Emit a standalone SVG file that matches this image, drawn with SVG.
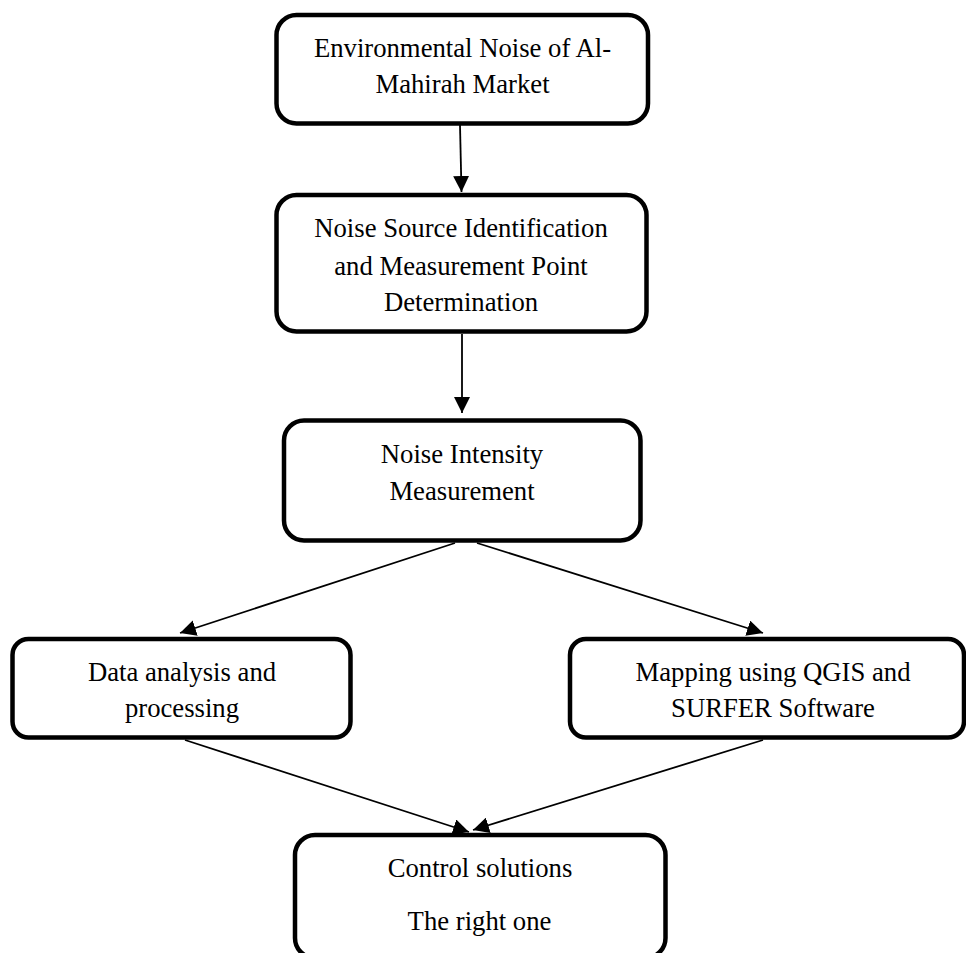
<svg xmlns="http://www.w3.org/2000/svg" width="966" height="953" viewBox="0 0 966 953">
<style>
.box{fill:#fff;stroke:#000;stroke-width:4.5}
.lbl{font-family:"Liberation Serif","Times New Roman",serif;font-size:26.7px;fill:#000;text-anchor:middle}
.conn{stroke:#000;stroke-width:1.8;fill:none;marker-end:url(#ah)}
</style>
<defs>
<marker id="ah" markerUnits="userSpaceOnUse" markerWidth="16" markerHeight="16" refX="15" refY="7.5" orient="auto" viewBox="0 0 15 15">
<path d="M0,0 L15,7.5 L0,15 z" fill="#000"/>
</marker>
</defs>
<rect width="966" height="953" fill="#fff"/>
<g id="connectors">
<line class="conn" x1="460" y1="125" x2="461.5" y2="192"/>
<line class="conn" x1="462" y1="334" x2="462" y2="413"/>
<line class="conn" x1="455" y1="543" x2="180" y2="633"/>
<line class="conn" x1="477" y1="543" x2="763" y2="633"/>
<line class="conn" x1="185" y1="740" x2="469" y2="832"/>
<line class="conn" x1="763" y1="740" x2="473" y2="830"/>
</g>
<g id="n1">
<rect class="box" x="276.5" y="15" width="371.5" height="108.5" rx="20"/>
<text class="lbl" x="462.5" y="57">Environmental Noise of Al-</text>
<text class="lbl" x="462.5" y="93">Mahirah Market</text>
</g>
<g id="n2">
<rect class="box" x="276.5" y="195" width="370" height="136.5" rx="20"/>
<text class="lbl" x="461" y="237">Noise Source Identification</text>
<text class="lbl" x="461" y="275">and Measurement Point</text>
<text class="lbl" x="461" y="311">Determination</text>
</g>
<g id="n3">
<rect class="box" x="284" y="420.5" width="356.5" height="120" rx="20"/>
<text class="lbl" x="462" y="463">Noise Intensity</text>
<text class="lbl" x="462" y="500">Measurement</text>
</g>
<g id="n4">
<rect class="box" x="12.5" y="639" width="338" height="98.5" rx="16"/>
<text class="lbl" x="182" y="681">Data analysis and</text>
<text class="lbl" x="182" y="717">processing</text>
</g>
<g id="n5">
<rect class="box" x="570" y="639" width="394" height="98.5" rx="16"/>
<text class="lbl" x="773" y="680.5">Mapping using QGIS and</text>
<text class="lbl" x="773" y="717">SURFER Software</text>
</g>
<g id="n6">
<rect class="box" x="295" y="835" width="370.5" height="123" rx="20"/>
<text class="lbl" x="480" y="877">Control solutions</text>
<text class="lbl" x="479.5" y="930">The right one</text>
</g>
</svg>
